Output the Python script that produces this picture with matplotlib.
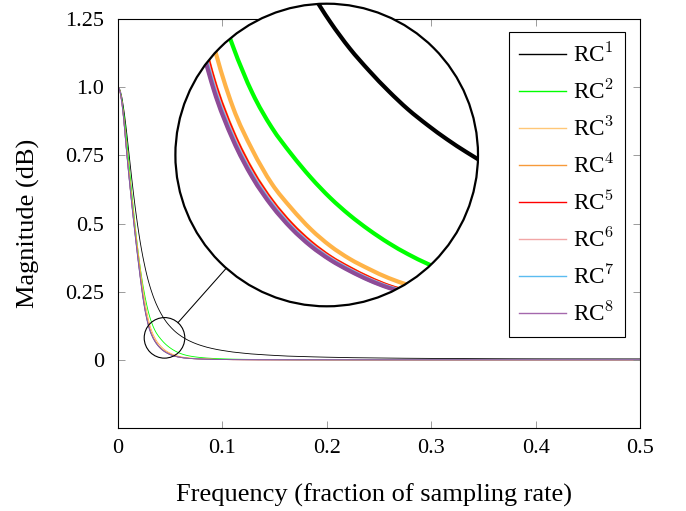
import matplotlib
matplotlib.use('Agg')
import matplotlib.pyplot as plt
from matplotlib.patches import Circle, Ellipse, PathPatch
from matplotlib.lines import Line2D
from matplotlib.path import Path
import numpy as np

plt.rcParams['font.family'] = ['Liberation Serif', 'DejaVu Serif']
plt.rcParams['mathtext.fontset'] = 'cm'

# ---------------- data ----------------
freq = [0, 0.0025, 0.005, 0.0075, 0.01, 0.0125, 0.015, 0.0175, 0.02, 0.0225, 0.025,
        0.0275, 0.03, 0.0325, 0.035, 0.0375, 0.04, 0.0425, 0.045, 0.0475, 0.05,
        0.0525, 0.055, 0.0575, 0.06, 0.0625, 0.065,
        0.07, 0.075, 0.08, 0.09, 0.1, 0.12, 0.15, 0.2, 0.25, 0.3, 0.35, 0.4, 0.45, 0.5]

rc1 = [1.0, 0.982, 0.932, 0.860, 0.775, 0.688, 0.605, 0.530, 0.463, 0.405, 0.356,
       0.313, 0.277, 0.2465, 0.220, 0.1975, 0.178, 0.161, 0.146, 0.133, 0.122,
       0.112, 0.103, 0.0953, 0.0883, 0.082, 0.0763,
       0.0667, 0.0587, 0.0521, 0.0418, 0.0344, 0.0245, 0.0162, 0.0097, 0.0068, 0.0052,
       0.0043, 0.0037, 0.0035, 0.0034]

rc2 = [1.0, 0.978, 0.920, 0.835, 0.740, 0.640, 0.545, 0.455, 0.375, 0.307, 0.250,
       0.202, 0.163, 0.134, 0.111, 0.094, 0.081, 0.0695, 0.0595, 0.0510, 0.0437,
       0.0373, 0.0318, 0.0271, 0.0231, 0.0198, 0.0171,
       0.0131, 0.0103, 0.0082, 0.0054, 0.0037, 0.0019, 0.0008, 0.0003, 0.0002, 0.0001,
       0.0001, 0.0001, 0.0001, 0.0001]

rc3 = [1.0, 0.975, 0.905, 0.808, 0.711, 0.620, 0.533, 0.451, 0.373, 0.300, 0.233,
       0.178, 0.135, 0.104, 0.083, 0.0664, 0.0544, 0.0441, 0.0359, 0.0295, 0.0245,
       0.0201, 0.0167, 0.0137, 0.0115, 0.0096, 0.0081,
       0.0062, 0.0047, 0.0037, 0.0023, 0.0015, 0.0007, 0.0003, 0.0001, 0.0, 0.0,
       0.0, 0.0, 0.0, 0.0]

rc4 = [1.0, 0.9727, 0.901, 0.797, 0.696, 0.602, 0.513, 0.429, 0.349, 0.274, 0.208,
       0.1566, 0.1180, 0.0919, 0.0727, 0.0581, 0.0467, 0.0377, 0.0305, 0.0250, 0.0202,
       0.0162, 0.0134, 0.0111, 0.0093, 0.0078, 0.0066,
       0.0050, 0.0038, 0.0029, 0.0018, 0.0011, 0.0005, 0.0002, 0.0001, 0.0, 0.0,
       0.0, 0.0, 0.0, 0.0]

rc5 = [1.0, 0.9725, 0.900, 0.796, 0.695, 0.600, 0.511, 0.427, 0.347, 0.272, 0.206,
       0.1557, 0.1173, 0.0913, 0.0722, 0.0577, 0.0464, 0.0374, 0.0303, 0.0248, 0.0200,
       0.0161, 0.0133, 0.0110, 0.0092, 0.0077, 0.0065,
       0.0049, 0.0038, 0.0029, 0.0018, 0.0011, 0.0005, 0.0002, 0.0001, 0.0, 0.0,
       0.0, 0.0, 0.0, 0.0]

rc6 = [1.0, 0.972, 0.899, 0.794, 0.692, 0.598, 0.508, 0.423, 0.344, 0.268, 0.203,
       0.1529, 0.1152, 0.0897, 0.0709, 0.0567, 0.0454, 0.0366, 0.0297, 0.0242, 0.0195,
       0.0157, 0.0129, 0.0107, 0.0089, 0.0075, 0.0064,
       0.0048, 0.0037, 0.0028, 0.0017, 0.0011, 0.0005, 0.0002, 0.0001, 0.0, 0.0,
       0.0, 0.0, 0.0, 0.0]

rc7 = [1.0, 0.972, 0.898, 0.793, 0.691, 0.596, 0.506, 0.421, 0.342, 0.267, 0.2015,
       0.1514, 0.1141, 0.0888, 0.0702, 0.0561, 0.0450, 0.0362, 0.0293, 0.0239, 0.0192,
       0.0155, 0.0128, 0.0105, 0.0088, 0.0074, 0.0063,
       0.0047, 0.0036, 0.0028, 0.0017, 0.0011, 0.0005, 0.0002, 0.0001, 0.0, 0.0,
       0.0, 0.0, 0.0, 0.0]

rc8 = [1.0, 0.972, 0.898, 0.792, 0.690, 0.595, 0.505, 0.420, 0.340, 0.265, 0.200,
       0.150, 0.113, 0.088, 0.0695, 0.0555, 0.0445, 0.0358, 0.029, 0.0236, 0.019,
       0.0153, 0.0126, 0.0104, 0.0087, 0.0073, 0.0062,
       0.0047, 0.0036, 0.0028, 0.0017, 0.0011, 0.0005, 0.0002, 0.0001, 0.0, 0.0,
       0.0, 0.0, 0.0, 0.0]

series = [rc1, rc2, rc3, rc4, rc5, rc6, rc7, rc8]
labels = [r'RC$^{1}$', r'RC$^{2}$', r'RC$^{3}$', r'RC$^{4}$',
          r'RC$^{5}$', r'RC$^{6}$', r'RC$^{7}$', r'RC$^{8}$']
colors = ['#000000', '#00ff00', '#ffb347', '#f7941d', '#ff0000',
          '#f4a3a3', '#5bbcf0', '#8e4b97']
legend_colors = ['#000000', '#00ff00', '#ffc777', '#f79a3a', '#ff0000',
                 '#f2a6a6', '#5bbcf0', '#a468ad']

xticks = [0, 0.1, 0.2, 0.3, 0.4, 0.5]
xticklabels = ['0', '0.1', '0.2', '0.3', '0.4', '0.5']
yticks = [0, 0.25, 0.5, 0.75, 1.0, 1.25]
yticklabels = ['0', '0.25', '0.5', '0.75', '1.0', '1.25']

# spy (zoom) region
spy_center = (0.04454, 0.0806)
spy_rx, spy_ry = 0.01944, 0.0744


def smooth_path(xs, ys):
    """Smooth (pgfplots-like) curve through the given data points."""
    x = np.asarray(xs, float)
    y = np.asarray(ys, float)
    n = len(x)
    h = np.diff(x)
    d = np.diff(y) / h
    m = np.empty(n)
    m[0] = 0.0
    m[-1] = d[-1]
    for i in range(1, n - 1):
        m[i] = (d[i - 1] * h[i] + d[i] * h[i - 1]) / (h[i - 1] + h[i])
    verts = [(x[0], y[0])]
    codes = [Path.MOVETO]
    for i in range(n - 1):
        verts += [(x[i] + h[i] / 3, y[i] + m[i] * h[i] / 3),
                  (x[i + 1] - h[i] / 3, y[i + 1] - m[i + 1] * h[i] / 3),
                  (x[i + 1], y[i + 1])]
        codes += [Path.CURVE4] * 3
    return Path(verts, codes)


# ---------------- figure ----------------
W, H = 686, 511
fig = plt.figure(figsize=(W / 100, H / 100), dpi=100)
ax = fig.add_axes([118 / W, (H - 428) / H, 522 / W, 409 / H])

main_lw = 0.6
for vals, c in zip(series, colors):
    ax.add_patch(PathPatch(smooth_path(freq, vals), fill=False, edgecolor=c,
                           lw=main_lw, capstyle='butt'))

ax.set_xlim(0, 0.5)
ax.set_ylim(-0.25, 1.25)
ax.set_xticks(xticks)
ax.set_xticklabels(xticklabels)
ax.set_yticks(yticks)
ax.set_yticklabels(yticklabels)
ax.tick_params(direction='in', length=5, width=0.6, color='#8c8c8c',
               top=True, right=True, labelsize=16)
ax.tick_params(axis='x', pad=8)
ax.tick_params(axis='y', pad=10)
for s in ax.spines.values():
    s.set_linewidth(0.8)
ax.set_xlabel('Frequency (fraction of sampling rate)', fontsize=19)
ax.xaxis.set_label_coords((374.5 - 118) / 522, (428 - 484) / 409)
ax.set_ylabel('Magnitude (dB)', fontsize=19)
ax.yaxis.set_label_coords((40 - 118) / 522, 0.5)

handles = [Line2D([], [], color=c, lw=1.0) for c in legend_colors]
leg = ax.legend(handles, labels, loc='upper right',
                bbox_to_anchor=((625 - 118) / 522, (428 - 31.7) / 409),
                borderaxespad=0, fancybox=False, edgecolor='black', framealpha=1,
                fontsize=16.7, handlelength=2.0, handletextpad=0.3, labelspacing=0.53,
                borderpad=0.45)
leg.get_frame().set_linewidth(0.8)

# small spy circle
ax.add_patch(Ellipse(spy_center, 2 * spy_rx, 2 * spy_ry, fill=False,
                     edgecolor='black', lw=0.8, zorder=10))

# magnified inset (circular)
cx, cy, R = 326.7, 155.0, 151.3
ax_in = fig.add_axes([(cx - R) / W, (H - cy - R) / H, 2 * R / W, 2 * R / H])
ax_in.set_xlim(spy_center[0] - spy_rx, spy_center[0] + spy_rx)
ax_in.set_ylim(spy_center[1] - spy_ry, spy_center[1] + spy_ry)
ax_in.axis('off')
ax_in.patch.set_visible(False)
bg = Circle((0.5, 0.5), 0.5, transform=ax_in.transAxes, facecolor='white',
            edgecolor='none', zorder=0)
ax_in.add_patch(bg)
inset_lw = 3.0
for vals, c in zip(series, colors):
    pp = PathPatch(smooth_path(freq, vals), fill=False, edgecolor=c, lw=inset_lw,
                   zorder=2, capstyle='butt')
    ax_in.add_patch(pp)
    pp.set_clip_path(bg)
ax_in.add_patch(Circle((0.5, 0.5), 0.5, transform=ax_in.transAxes, fill=False,
                       edgecolor='black', lw=1.6, zorder=5, clip_on=False))

# connecting line between the two circles
ps = ax.transData.transform(spy_center)
rs = ax.transData.transform((spy_center[0] + spy_rx, spy_center[1]))[0] - ps[0]
pb = ax_in.transAxes.transform((0.5, 0.5))
rb = ax_in.transAxes.transform((1.0, 0.5))[0] - pb[0]
d = pb - ps
u = d / np.hypot(*d)
a = ps + u * rs
b = pb - u * rb
fa, fb = fig.transFigure.inverted().transform([a, b])
fig.add_artist(Line2D([fa[0], fb[0]], [fa[1], fb[1]], transform=fig.transFigure,
                      color='black', lw=0.75))

fig.savefig('out.png', dpi=100)
